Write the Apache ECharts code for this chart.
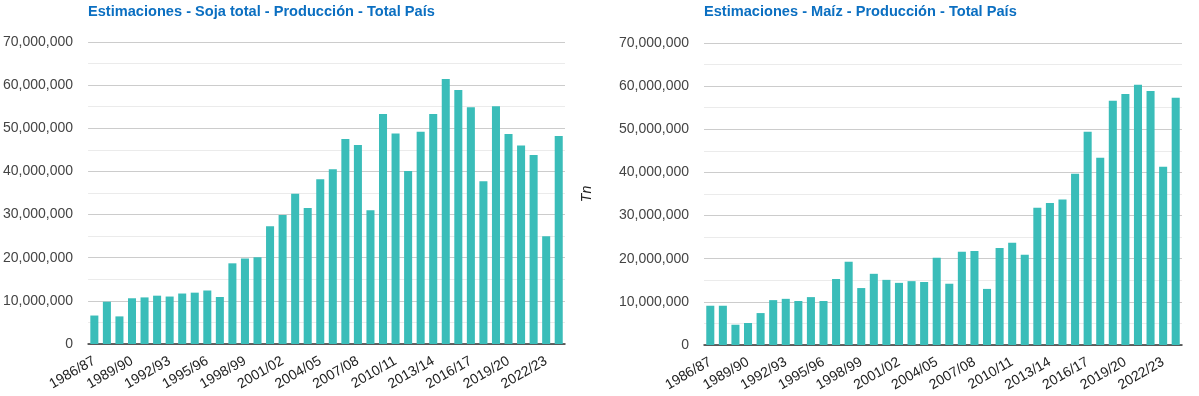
<!DOCTYPE html>
<html>
<head>
<meta charset="utf-8">
<script src="https://cdn.jsdelivr.net/npm/echarts@6/dist/echarts.min.js"></script>
<style>
  html, body { margin: 0; padding: 0; background: #fff; }
  #chart { width: 1199px; height: 396px; }
</style>
</head>
<body>
<div id="chart"></div>
<script>
const campanias = ['1986/87', '1987/88', '1988/89', '1989/90', '1990/91', '1991/92', '1992/93', '1993/94',
  '1994/95', '1995/96', '1996/97', '1997/98', '1998/99', '1999/00', '2000/01', '2001/02', '2002/03',
  '2003/04', '2004/05', '2005/06', '2006/07', '2007/08', '2008/09', '2009/10', '2010/11', '2011/12',
  '2012/13', '2013/14', '2014/15', '2015/16', '2016/17', '2017/18', '2018/19', '2019/20', '2020/21',
  '2021/22', '2022/23', '2023/24']

const soja = [6600000, 9800000, 6400000, 10600000, 10800000, 11200000, 11000000, 11700000,
  11900000, 12400000, 10900000, 18700000, 19800000, 20100000, 27300000, 29900000, 34800000,
  31500000, 38200000, 40500000, 47500000, 46100000, 31000000, 53300000, 48800000, 40100000,
  49200000, 53300000, 61400000, 58900000, 54900000, 37700000, 55100000, 48700000, 46000000,
  43800000, 25000000, 48200000]

const maiz = [9100000, 9100000, 4700000, 5100000, 7400000, 10400000, 10700000, 10200000,
  11100000, 10200000, 15300000, 19300000, 13200000, 16500000, 15100000, 14400000, 14800000,
  14600000, 20200000, 14200000, 21600000, 21800000, 13000000, 22500000, 23700000, 20900000,
  31800000, 32900000, 33700000, 39700000, 49400000, 43400000, 56600000, 58200000, 60300000,
  58900000, 41300000, 57300000]

const titulos = ['Estimaciones - Soja total - Producción - Total País', 'Estimaciones - Maíz - Producción - Total País']

const chart = echarts.init(document.getElementById('chart'))

const fmt = v => Number(v).toLocaleString('en-US')
const font = 'Arial, "Liberation Sans", sans-serif'

function yAxis (idx, name) {
  return {
    type: 'value',
    gridIndex: idx,
    min: 0,
    max: 70000000,
    interval: 10000000,
    name: name,
    nameLocation: 'middle',
    nameRotate: 90,
    nameGap: 110,
    nameTextStyle: { fontStyle: 'italic', fontSize: 14, color: '#222', fontFamily: font },
    axisLine: { show: false },
    axisTick: { show: false },
    axisLabel: { formatter: fmt, fontSize: 14, color: '#444', margin: 15, fontFamily: font },
    splitLine: { lineStyle: { color: '#ccc' } },
    minorTick: { show: false, splitNumber: 2 },
    minorSplitLine: { show: true, lineStyle: { color: '#ebebeb' } },
  }
}

function xAxis (idx) {
  return {
    type: 'category',
    gridIndex: idx,
    data: campanias,
    axisLine: { lineStyle: { color: '#333', width: 1.5 } },
    axisTick: { show: false },
    axisLabel: { interval: 2, rotate: 30, fontSize: 14, color: '#222', margin: 16, fontFamily: font },
  }
}

chart.setOption({
  animation: false,
  title: titulos.map((t, i) => ({
    text: t,
    left: i === 0 ? 88 : 704,
    top: 4,
    padding: 0,
    textStyle: { fontSize: 14.6, fontWeight: 'bold', color: '#0b6fc1', fontFamily: font },
  })),
  grid: [
    { left: 87, top: 42, width: 478, height: 302 },
    { left: 704, top: 43, width: 478, height: 302 },
  ],
  xAxis: [xAxis(0), xAxis(1)],
  yAxis: [yAxis(0, ''), yAxis(1, 'Tn')],
  series: [
    { type: 'bar', xAxisIndex: 0, yAxisIndex: 0, data: soja, barCategoryGap: '36%', itemStyle: { color: '#3abdb9' } },
    { type: 'bar', xAxisIndex: 1, yAxisIndex: 1, data: maiz, barCategoryGap: '36%', itemStyle: { color: '#3abdb9' } },
  ],
})
</script>
</body>
</html>
